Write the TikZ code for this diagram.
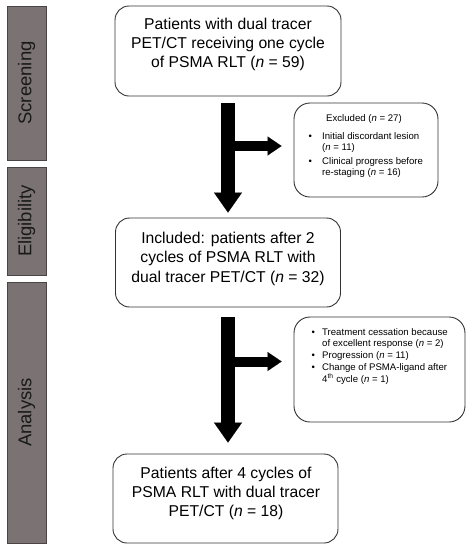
\documentclass[tikz,border=0pt]{standalone}
\usepackage{fontspec}
\setmainfont{Liberation Sans}
\usetikzlibrary{arrows.meta}
\definecolor{barfill}{HTML}{7B7373}
\definecolor{barline}{HTML}{4A4545}
\begin{document}
\begin{tikzpicture}[x=1pt,y=-1pt,
 bar/.style={draw=barline, fill=barfill, line width=0.8pt, inner sep=0pt},
 bartext/.style={rotate=90, font=\fontsize{18.5}{20}\selectfont, text=black!90, inner sep=0pt},
 box/.style={draw=black!80, line width=0.9pt, rounded corners=14pt, inner sep=0pt, fill=white},
 sbox/.style={box, rounded corners=16pt},
 maintext/.style={align=center, font=\fontsize{15.7}{19.3}\selectfont, inner sep=0pt},
 smalltext/.style={font=\fontsize{9.6}{11.5}\selectfont, inner sep=0pt},
 bigarrow/.style={line width=14pt, -{Triangle[width=28pt,length=20pt,line width=0.01pt]}},
 sidearrow/.style={line width=10pt, -{Triangle[width=19pt,length=14pt,line width=0.01pt]}}]
\useasboundingbox (0,0) rectangle (471,550);

% side bars
\node[bar, minimum width=39pt, minimum height=154pt] (sbar) at (26.5,83) {};
\node[bartext] (stext) at (sbar.center) {Screening};
\node[bar, minimum width=39pt, minimum height=108pt] (ebar) at (26.5,221) {};
\node[bartext] (etext) at (ebar.center) {Eligibility};
\node[bar, minimum width=39pt, minimum height=261pt] (abar) at (26.5,412.5) {};
\node[bartext] (atext) at (abar.center) {Analysis};

% main boxes
\node[box, minimum width=226pt, minimum height=90pt] (b1) at (228,51) {};
\node[maintext] (t1) at (228,44.5) {Patients with dual tracer\\PET/CT receiving one cycle\\of PSMA RLT (\textit{n} = 59)};

\node[box, minimum width=225pt, minimum height=89pt] (b2) at (228,262.5) {};
\node[maintext] (t2) at (228,258.7) {Included: patients after 2\\cycles of PSMA RLT with\\dual tracer PET/CT (\textit{n} = 32)};

\node[box, minimum width=225pt, minimum height=89pt] (b4) at (225.5,498.5) {};
\node[maintext] (t4) at (226,493.5) {Patients after 4 cycles of\\PSMA RLT with dual tracer\\PET/CT (\textit{n} = 18)};

% exclusion boxes
\node[sbox, minimum width=144pt, minimum height=94pt] (e1) at (366,150) {};
\node[smalltext, anchor=base] (e1title) at (364,121) {Excluded (\textit{n} = 27)};
\node[smalltext, anchor=base west] (e1list) at (308.5,139) {%
\fontsize{9.6}{11}\selectfont
\begin{tabular}[t]{@{}p{13.5pt}@{}l@{}}
\textbullet & Initial discordant lesion\\
 & (\textit{n} = 11)\\[3pt]
\textbullet & Clinical progress before\\
 & re-staging (\textit{n} = 16)
\end{tabular}};

\node[sbox, minimum width=171pt, minimum height=105pt] (e2) at (379.5,369.5) {};
\node[smalltext, anchor=base west] (e2list) at (311.5,335) {%
\fontsize{9.6}{11.7}\selectfont
\begin{tabular}[t]{@{}p{10.5pt}@{}l@{}}
\textbullet & Treatment cessation because\\
 & of excellent response (\textit{n} = 2)\\
\textbullet & Progression (\textit{n} = 11)\\
\textbullet & Change of PSMA-ligand after\\
 & 4\textsuperscript{th} cycle (\textit{n} = 1)
\end{tabular}};

% arrows
\draw[bigarrow, shorten <=7pt, shorten >=5pt] (b1.south) -- (b1.south |- b2.north);
\coordinate (j1) at (228,146);
\draw[sidearrow, shorten >=12pt] (j1) -- (j1 -| e1.west);

\draw[bigarrow, shorten <=10pt, shorten >=11pt] (b2.south) -- (b2.south |- b4.north);
\coordinate (j2) at (228,361.5);
\draw[sidearrow, shorten >=12pt] (j2) -- (j2 -| e2.west);
\end{tikzpicture}
\end{document}
